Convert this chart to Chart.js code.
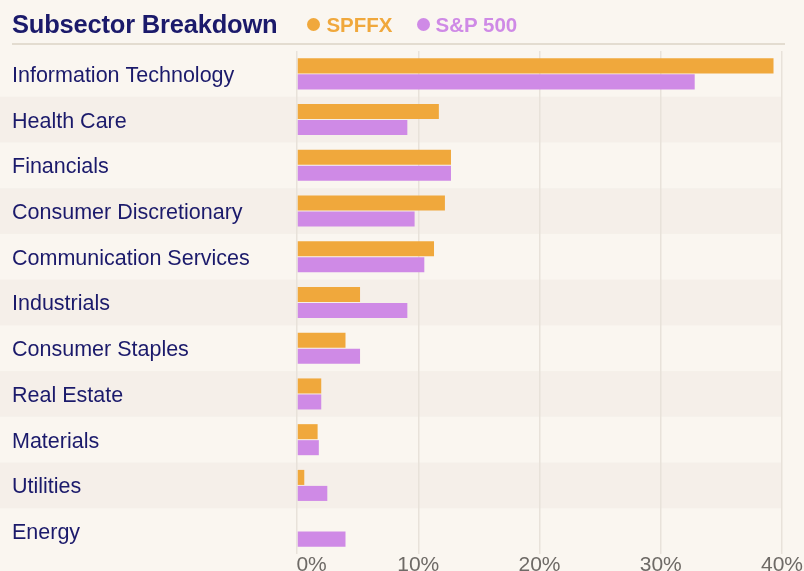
<!DOCTYPE html>
<html>
<head>
<meta charset="utf-8">
<script src="https://cdn.jsdelivr.net/npm/chart.js@4.4.0/dist/chart.umd.min.js"></script>
<style>
  html, body { margin: 0; padding: 0; background: #faf6f0; }
  #wrap { position: relative; width: 804px; height: 571px; overflow: hidden; }
  #head { position: absolute; left: 12px; top: 10px; display: flex; align-items: center; font-family: "Liberation Sans", Arial, sans-serif; }
  #head h1 { margin: 0; font-size: 25.5px; font-weight: bold; color: #1b1a6b; letter-spacing: -0.2px; }
  .item { display: flex; align-items: center; font-size: 20.5px; font-weight: bold; margin-left: 30px; }
  .dot { width: 13px; height: 13px; border-radius: 50%; margin-right: 6px; }
  #rule { position: absolute; left: 12px; top: 43px; width: 773px; height: 2px; background: #e3dcd0; }
</style>
</head>
<body>
<div id="wrap">
  <canvas id="subChart" width="804" height="571"></canvas>
  <div id="rule"></div>
  <div id="head">
    <h1>Subsector Breakdown</h1>
    <div class="item" style="color:#f0a83c"><span class="dot" style="background:#f0a83c"></span>SPFFX</div>
    <div class="item" style="color:#cf8ae6;margin-left:24px"><span class="dot" style="background:#cf8ae6"></span>S&amp;P 500</div>
  </div>
</div>
<script>
const sectors = ['Information Technology', 'Health Care', 'Financials', 'Consumer Discretionary',
  'Communication Services', 'Industrials', 'Consumer Staples', 'Real Estate', 'Materials',
  'Utilities', 'Energy'];
const spffx = [39.3, 11.7, 12.7, 12.2, 11.3, 5.2, 4.0, 2.0, 1.7, 0.6, 0];
const sp500 = [32.8, 9.1, 12.7, 9.7, 10.5, 9.1, 5.2, 2.0, 1.8, 2.5, 4.0];
const xTicks = [0, 10, 20, 30, 40];

const navy = '#1b1a6b';

// alternating row bands behind the grid
const rowBands = {
  id: 'rowBands',
  beforeDraw(chart) {
    const { ctx, chartArea, scales } = chart;
    const y = scales.y;
    const half = (y.getPixelForValue(1) - y.getPixelForValue(0)) / 2;
    ctx.save();
    ctx.fillStyle = '#f5efe9';
    sectors.forEach((s, i) => {
      if (i % 2 === 1) {
        const c = y.getPixelForValue(i);
        ctx.fillRect(0, c - half, chartArea.right, half * 2);
      }
    });
    ctx.restore();
  }
};

const ctx = document.getElementById('subChart').getContext('2d');
new Chart(ctx, {
  type: 'bar',
  data: {
    labels: sectors,
    datasets: [
      { label: 'SPFFX', data: spffx, backgroundColor: '#f0a83c' },
      { label: 'S&P 500', data: sp500, backgroundColor: '#cf8ae6' }
    ]
  },
  plugins: [rowBands],
  options: {
    indexAxis: 'y',
    responsive: false,
    animation: false,
    categoryPercentage: 0.7,
    barPercentage: 0.94,
    layout: { padding: { top: 51, left: 12, right: 22, bottom: 0 } },
    plugins: {
      legend: { display: false },
      tooltip: { enabled: false }
    },
    scales: {
      x: {
        min: 0,
        max: 40,
        border: { display: false },
        grid: { color: '#e8e2da', lineWidth: 1.5, drawTicks: false },
        afterFit(scale) { scale.height = 17; },
        ticks: {
          stepSize: 5,
          padding: -1.5,
          color: '#6e6a66',
          font: { family: 'Liberation Sans', size: 21 },
          maxRotation: 0,
          callback: v => xTicks.includes(v) ? (v === 0 ? '     ' + v + '%' : v + '%') : ''
        }
      },
      y: {
        border: { display: false },
        grid: { display: false },
        afterFit(scale) { scale.width = 285; },
        ticks: {
          crossAlign: 'far',
          padding: 0,
          labelOffset: 2,
          color: navy,
          font: { family: 'Liberation Sans', size: 21.5 }
        }
      }
    }
  }
});
</script>
</body>
</html>
